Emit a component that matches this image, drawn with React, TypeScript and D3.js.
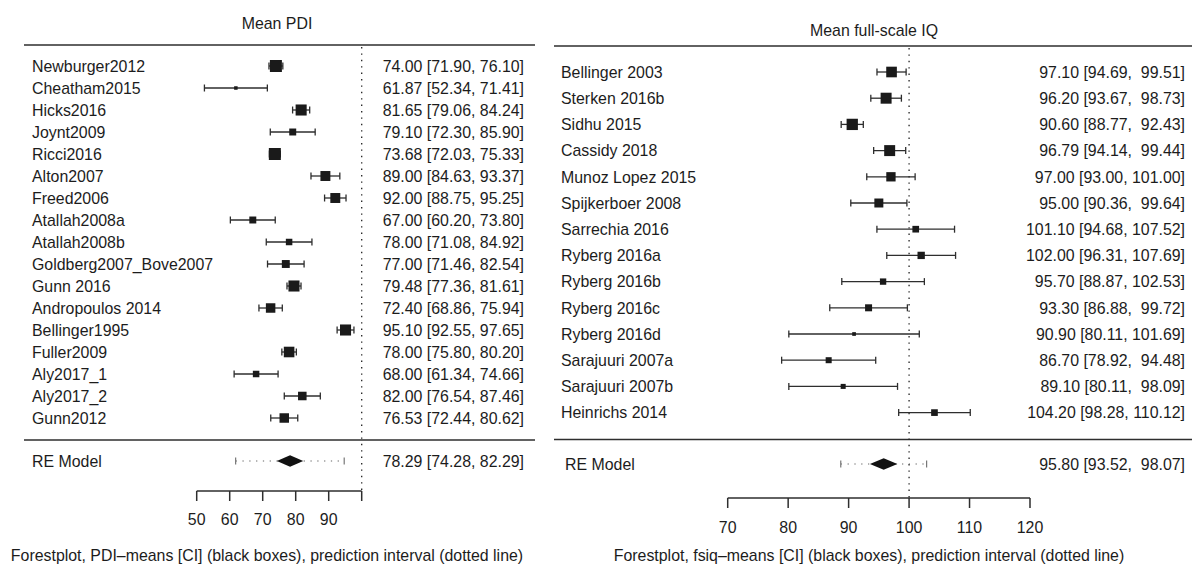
import React from "react";
import * as d3 from "d3";

// ---------- Data: left panel (Mean PDI) ----------
const pdiStudies = [
  "Newburger2012", "Cheatham2015", "Hicks2016", "Joynt2009", "Ricci2016",
  "Alton2007", "Freed2006", "Atallah2008a", "Atallah2008b", "Goldberg2007_Bove2007",
  "Gunn 2016", "Andropoulos 2014", "Bellinger1995", "Fuller2009", "Aly2017_1",
  "Aly2017_2", "Gunn2012",
];
const pdiMean = [74.0, 61.87, 81.65, 79.1, 73.68, 89.0, 92.0, 67.0, 78.0, 77.0, 79.48, 72.4, 95.1, 78.0, 68.0, 82.0, 76.53];
const pdiLower = [71.9, 52.34, 79.06, 72.3, 72.03, 84.63, 88.75, 60.2, 71.08, 71.46, 77.36, 68.86, 92.55, 75.8, 61.34, 76.54, 72.44];
const pdiUpper = [76.1, 71.41, 84.24, 85.9, 75.33, 93.37, 95.25, 73.8, 84.92, 82.54, 81.61, 75.94, 97.65, 80.2, 74.66, 87.46, 80.62];
const pdiWeight = [7.7, 2.3, 7.1, 4.5, 7.7, 6.4, 6.4, 4.5, 4.2, 5.1, 7.1, 6.1, 7.1, 6.8, 4.2, 5.5, 6.1];
const pdiRE = { est: 78.29, lower: 74.28, upper: 82.29, piLower: 61.8, piUpper: 94.7 };
const pdiTicks = [50, 60, 70, 80, 90, 100];
const pdiTickLabels = ["50", "60", "70", "80", "90", ""];
const pdiTitle = "Mean PDI";
const pdiCaption = "Forestplot, PDI\u2013means [CI] (black boxes), prediction interval (dotted line)";

// ---------- Data: right panel (Mean full-scale IQ) ----------
const iqStudies = [
  "Bellinger 2003", "Sterken 2016b", "Sidhu 2015", "Cassidy 2018", "Munoz Lopez 2015",
  "Spijkerboer 2008", "Sarrechia 2016", "Ryberg 2016a", "Ryberg 2016b", "Ryberg 2016c",
  "Ryberg 2016d", "Sarajuuri 2007a", "Sarajuuri 2007b", "Heinrichs 2014",
];
const iqMean = [97.1, 96.2, 90.6, 96.79, 97.0, 95.0, 101.1, 102.0, 95.7, 93.3, 90.9, 86.7, 89.1, 104.2];
const iqLower = [94.69, 93.67, 88.77, 94.14, 93.0, 90.36, 94.68, 96.31, 88.87, 86.88, 80.11, 78.92, 80.11, 98.28];
const iqUpper = [99.51, 98.73, 92.43, 99.44, 101.0, 99.64, 107.52, 107.69, 102.53, 99.72, 101.69, 94.48, 98.09, 110.12];
const iqWeight = [9.6, 9.9, 10.2, 9.9, 8.4, 8.1, 6.0, 6.6, 5.7, 6.3, 3.3, 5.4, 4.5, 6.0];
const iqRE = { est: 95.8, lower: 93.52, upper: 98.07, piLower: 88.7, piUpper: 102.9 };
const iqTicks = [70, 80, 90, 100, 110, 120];
const iqTickLabels = ["70", "80", "90", "100", "110", "120"];
const iqTitle = "Mean full-scale IQ";
const iqCaption = "Forestplot, fsiq\u2013means [CI] (black boxes), prediction interval (dotted line)";

const FONT = "'Liberation Sans', Arial, Helvetica, sans-serif";
const FS = 15.9;
const TXT = "#1c1c1c";
const LN = "#2e2e2e";

const f2 = d3.format(".2f");

function fmtRows(mean: number[], lo: number[], hi: number[]) {
  const ms = mean.map(f2), ls = lo.map(f2), hs = hi.map(f2);
  const wm = d3.max(ms, (s) => s.length)!;
  const wl = d3.max(ls, (s) => s.length)!;
  const wh = d3.max(hs, (s) => s.length)!;
  return { wm, wl, wh, fmt: (m: number, l: number, h: number) =>
    `${f2(m).padStart(wm)} [${f2(l).padStart(wl)}, ${f2(h).padStart(wh)}]` };
}

type PanelProps = {
  studies: string[]; mean: number[]; lower: number[]; upper: number[]; weight: number[];
  re: { est: number; lower: number; upper: number; piLower: number; piUpper: number };
  ticks: number[]; tickLabels: string[]; title: string; caption: string;
  domain: [number, number]; range: [number, number];
  boxLeft: number; boxRight: number; titleX: number; titleY: number;
  topLine: number; bottomLine: number; row0: number; rowStep: number; reY: number;
  axisY: number; tickLen: number; tickLabelY: number; labelX: number; reLabelX: number;
  valueX: number; captionX: number; captionY: number; sizeRange: [number, number];
  diamondH: number; refValue: number;
};

function Panel(p: PanelProps) {
  const x = d3.scaleLinear().domain(p.domain).range(p.range);
  const y = (i: number) => p.row0 + p.rowStep * i;
  const size = d3.scaleLinear()
    .domain([d3.min(p.weight)!, d3.max(p.weight)!])
    .range(p.sizeRange);
  const rows = fmtRows(
    [...p.mean, p.re.est], [...p.lower, p.re.lower], [...p.upper, p.re.upper]
  );
  const textStyle: React.CSSProperties = { whiteSpace: "pre" };
  const capH = 3.5;
  return (
    <g fontFamily={FONT} fontSize={FS} fill={TXT}>
      <text x={p.titleX} y={p.titleY} textAnchor="middle">{p.title}</text>
      <line x1={p.boxLeft} x2={p.boxRight} y1={p.topLine} y2={p.topLine} stroke={LN} strokeWidth={1.5} />
      <line x1={p.boxLeft} x2={p.boxRight} y1={p.bottomLine} y2={p.bottomLine} stroke={LN} strokeWidth={1.5} />
      {/* reference line */}
      <line x1={x(p.refValue)} x2={x(p.refValue)} y1={p.topLine + 2} y2={p.axisY}
        stroke="#222" strokeWidth={1.3} strokeDasharray="1.4,5" />
      {p.studies.map((s, i) => {
        const yy = y(i);
        const sz = size(p.weight[i]);
        return (
          <g key={s}>
            <text x={p.labelX} y={yy} dy="0.36em">{s}</text>
            <line x1={x(p.lower[i])} x2={x(p.upper[i])} y1={yy} y2={yy} stroke={LN} strokeWidth={1.3} />
            <line x1={x(p.lower[i])} x2={x(p.lower[i])} y1={yy - capH} y2={yy + capH} stroke={LN} strokeWidth={1.3} />
            <line x1={x(p.upper[i])} x2={x(p.upper[i])} y1={yy - capH} y2={yy + capH} stroke={LN} strokeWidth={1.3} />
            <rect x={x(p.mean[i]) - sz / 2} y={yy - sz / 2} width={sz} height={sz} fill="#1a1a1a" />
            <text x={p.valueX} y={yy} dy="0.36em" textAnchor="end" style={textStyle}>
              {rows.fmt(p.mean[i], p.lower[i], p.upper[i])}
            </text>
          </g>
        );
      })}
      {/* RE model */}
      <text x={p.reLabelX} y={p.reY} dy="0.36em">RE Model</text>
      <line x1={x(p.re.piLower)} x2={x(p.re.piUpper)} y1={p.reY} y2={p.reY}
        stroke="#666" strokeWidth={1.2} strokeDasharray="1.3,5.5" />
      <line x1={x(p.re.piLower)} x2={x(p.re.piLower)} y1={p.reY - 3.5} y2={p.reY + 3.5} stroke="#777" strokeWidth={1.2} />
      <line x1={x(p.re.piUpper)} x2={x(p.re.piUpper)} y1={p.reY - 3.5} y2={p.reY + 3.5} stroke="#777" strokeWidth={1.2} />
      <polygon
        points={[
          [x(p.re.lower), p.reY], [x(p.re.est), p.reY - p.diamondH],
          [x(p.re.upper), p.reY], [x(p.re.est), p.reY + p.diamondH],
        ].map((d) => d.join(",")).join(" ")}
        fill="#111" />
      <text x={p.valueX} y={p.reY} dy="0.36em" textAnchor="end" style={textStyle}>
        {rows.fmt(p.re.est, p.re.lower, p.re.upper)}
      </text>
      {/* axis */}
      <line x1={x(p.domain[0])} x2={x(p.domain[1])} y1={p.axisY} y2={p.axisY} stroke={LN} strokeWidth={1.5} />
      {p.ticks.map((t, i) => (
        <g key={t}>
          <line x1={x(t)} x2={x(t)} y1={p.axisY} y2={p.axisY + p.tickLen} stroke={LN} strokeWidth={1.5} />
          <text x={x(t)} y={p.tickLabelY} textAnchor="middle">{p.tickLabels[i]}</text>
        </g>
      ))}
      <text x={p.captionX} y={p.captionY} textAnchor="middle">{p.caption}</text>
    </g>
  );
}

export default function App() {
  return (
    <svg width={1192} height={564} viewBox="0 0 1192 564"
      style={{ position: "absolute", left: 0, top: 0, background: "#fff" }}>
      <rect width={1192} height={564} fill="#fff" />
      <Panel
        studies={pdiStudies} mean={pdiMean} lower={pdiLower} upper={pdiUpper} weight={pdiWeight}
        re={pdiRE} ticks={pdiTicks} tickLabels={pdiTickLabels} title={pdiTitle} caption={pdiCaption}
        domain={[50, 100]} range={[196.7, 361.7]}
        boxLeft={24} boxRight={535} titleX={277} titleY={29}
        topLine={45} bottomLine={440} row0={66} rowStep={22} reY={461}
        axisY={491} tickLen={10} tickLabelY={525} labelX={32} reLabelX={32}
        valueX={524} captionX={267} captionY={561} sizeRange={[3.5, 12]} diamondH={5.8}
        refValue={100}
      />
      <Panel
        studies={iqStudies} mean={iqMean} lower={iqLower} upper={iqUpper} weight={iqWeight}
        re={iqRE} ticks={iqTicks} tickLabels={iqTickLabels} title={iqTitle} caption={iqCaption}
        domain={[70, 120]} range={[727.7, 1030]}
        boxLeft={554} boxRight={1192} titleX={874} titleY={36}
        topLine={46} bottomLine={439.5} row0={72} rowStep={26.2} reY={464}
        axisY={498} tickLen={10} tickLabelY={533} labelX={561} reLabelX={565}
        valueX={1185} captionX={869} captionY={561} sizeRange={[3.7, 11.3]} diamondH={5.7}
        refValue={100}
      />
    </svg>
  );
}
